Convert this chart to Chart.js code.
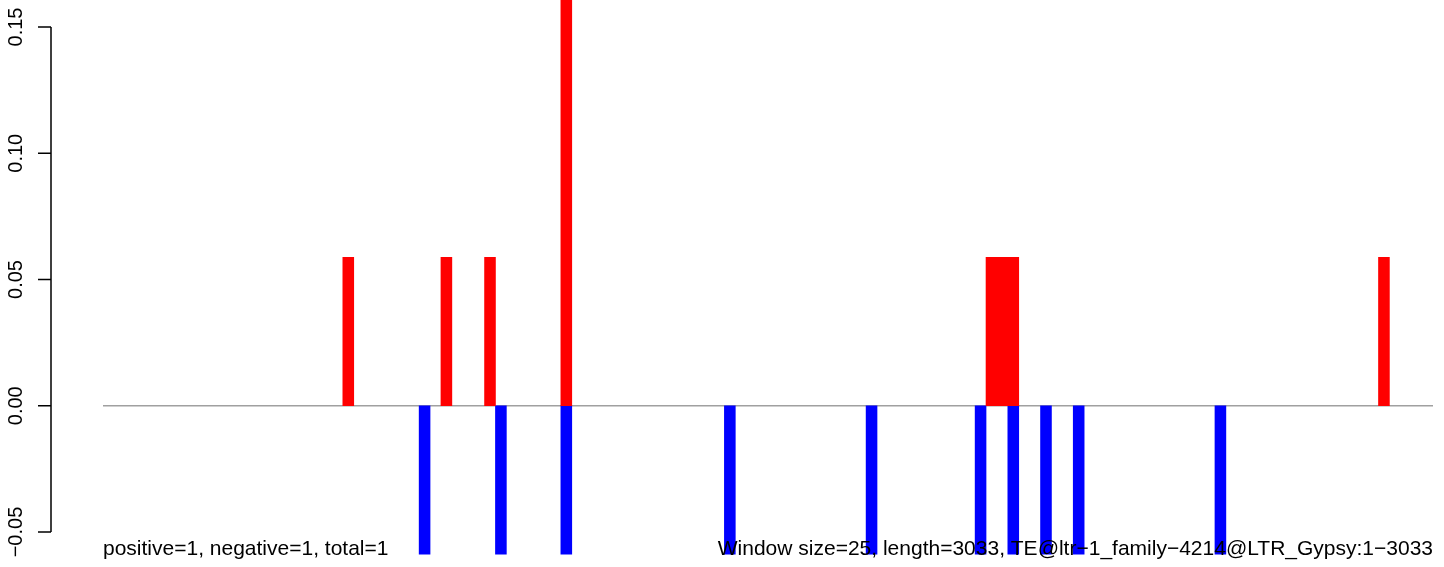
<!DOCTYPE html>
<html>
<head>
<meta charset="utf-8">
<script src="https://cdn.jsdelivr.net/npm/chart.js@4.4.1/dist/chart.umd.min.js"></script>
<style>
  html, body { margin: 0; padding: 0; background: #fff; }
  #wrap { width: 1444px; height: 567px; }
</style>
</head>
<body>
<div id="wrap"><canvas id="windowChart" width="1444" height="567"></canvas></div>
<script>
// 3033 bp split into 25 bp windows -> 122 windows
const windowCount = 122;
const windowSize = 25;

// windows with a positive signal (0-based window index) and their heights
const positiveWindows = [22, 31, 35, 42, 81, 82, 83, 117];
const positiveValues = [0.0588, 0.0588, 0.0588, 0.1765, 0.0588, 0.0588, 0.0588, 0.0588];

// windows with a negative signal and their depths
const negativeWindows = [29, 36, 42, 57, 70, 80, 83, 86, 89, 102];
const negativeValues = [-0.0588, -0.0588, -0.0588, -0.0588, -0.0588, -0.0588, -0.0588, -0.0588, -0.0588, -0.0588];

const yTicks = [-0.05, 0, 0.05, 0.10, 0.15];
const yTickLabels = ["\u22120.05", "0.00", "0.05", "0.10", "0.15"];

const leftNote = "positive=1, negative=1, total=1";
const rightNote = "Window size=25, length=3033, TE@ltr\u22121_family\u22124214@LTR_Gypsy:1\u22123033";

let labels = [];
for (let i = 0; i < windowCount; i++) labels.push(String(i * windowSize + 1));

function fillSeries(idx, vals) {
    let out = new Array(windowCount).fill(null);
    idx.forEach((w, k) => { out[w] = vals[k]; });
    return out;
}

const FONT = "'Liberation Sans', Arial, Helvetica, sans-serif";

const rStyleAxis = {
    id: "rStyleAxis",
    beforeDatasetsDraw(chart) {
        let ctx = chart.ctx;
        let area = chart.chartArea;
        let y = chart.scales.y;
        let y0 = y.getPixelForValue(0);
        ctx.save();
        ctx.strokeStyle = "#a0a0a0";
        ctx.lineWidth = 1.5;
        ctx.beginPath();
        ctx.moveTo(area.left, y0);
        ctx.lineTo(area.right, y0);
        ctx.stroke();
        ctx.restore();
    },
    afterDatasetsDraw(chart) {
        let ctx = chart.ctx;
        let y = chart.scales.y;
        let area = chart.chartArea;
        let axisX = 51;
        let top = y.getPixelForValue(yTicks[yTicks.length - 1]);
        let bottom = y.getPixelForValue(yTicks[0]);
        ctx.save();
        ctx.strokeStyle = "#000";
        ctx.lineWidth = 1.5;
        ctx.beginPath();
        ctx.moveTo(axisX, top);
        ctx.lineTo(axisX, bottom);
        yTicks.forEach(v => {
            let py = y.getPixelForValue(v);
            ctx.moveTo(axisX, py);
            ctx.lineTo(axisX - 13, py);
        });
        ctx.stroke();

        ctx.fillStyle = "#000";
        ctx.font = "20px " + FONT;
        ctx.textAlign = "center";
        ctx.textBaseline = "alphabetic";
        yTicks.forEach((v, i) => {
            let py = y.getPixelForValue(v);
            ctx.save();
            ctx.translate(22, py);
            ctx.rotate(-Math.PI / 2);
            ctx.fillText(yTickLabels[i], 0, 0);
            ctx.restore();
        });

        ctx.font = "21px " + FONT;
        ctx.textAlign = "left";
        ctx.fillText(leftNote, area.left, 555);
        ctx.textAlign = "right";
        ctx.fillText(rightNote, area.right, 555);
        ctx.restore();
    }
};

new Chart(document.getElementById("windowChart"), {
    type: "bar",
    data: {
        labels: labels,
        datasets: [{
            label: "positive",
            data: fillSeries(positiveWindows, positiveValues),
            backgroundColor: "#ff0000",
            borderWidth: 0
        }, {
            label: "negative",
            data: fillSeries(negativeWindows, negativeValues),
            backgroundColor: "#0000ff",
            borderWidth: 0
        }]
    },
    options: {
        responsive: false,
        animation: false,
        layout: { padding: { left: 103, right: 11, top: 0, bottom: 12 } },
        datasets: { bar: { barPercentage: 1, categoryPercentage: 1 } },
        scales: {
            x: { display: false, stacked: true, offset: true },
            y: { display: false, stacked: true, min: -0.0591, max: 0.1607 }
        },
        plugins: {
            legend: { display: false },
            tooltip: { enabled: false }
        }
    },
    plugins: [rStyleAxis]
});
</script>
</body>
</html>
